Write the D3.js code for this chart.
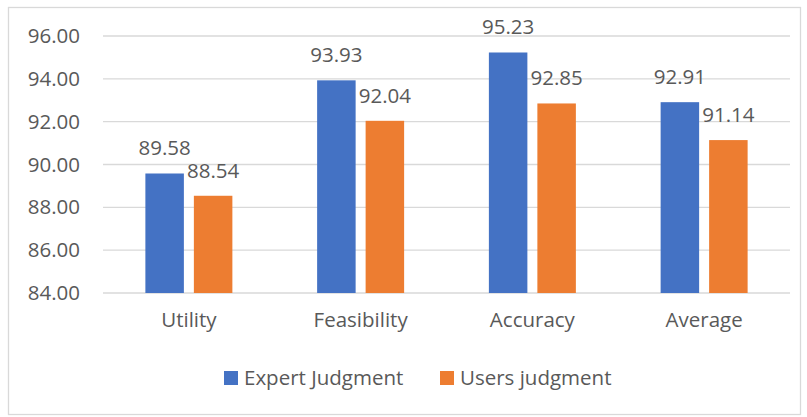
<html>
  <head>
    <meta charset="UTF-8">
    <style>
      body { margin: 0; background: #fff; }
      text { font-family: "Open Sans", sans-serif; fill: #595959; }
    </style>
  </head>
  <body>
    <script src="https://d3js.org/d3.v7.min.js"></script>
    <script>

var categories = ["Utility", "Feasibility", "Accuracy", "Average"];
var seriesNames = ["Expert Judgment", "Users judgment"];
var expertValues = [89.58, 93.93, 95.23, 92.91];
var usersValues = [88.54, 92.04, 92.85, 91.14];
var yTicks = [84, 86, 88, 90, 92, 94, 96];
var colors = ["#4472C4", "#ED7D31"];

var width = 807, height = 417;
var plot = { left: 103, right: 790, top: 36, bottom: 293 };

var svg = d3.select("body").append("svg")
    .attr("width", width).attr("height", height);

// outer frame
svg.append("rect")
    .attr("x", 8.5).attr("y", 7.5)
    .attr("width", 792).attr("height", 407)
    .attr("fill", "#fff")
    .attr("stroke", "#D9D9D9")
    .attr("stroke-width", 1.3);

var y = d3.scaleLinear().domain([84, 96]).range([plot.bottom, plot.top]);
var x0 = d3.scaleBand().domain(categories).range([plot.left, plot.right]).padding(0);
var x1 = d3.scaleBand().domain(seriesNames).range([0, x0.bandwidth()])
    .paddingInner(0.206).paddingOuter(0.874);

// gridlines
svg.append("g").selectAll("line")
    .data(yTicks)
    .join("line")
    .attr("x1", plot.left).attr("x2", plot.right)
    .attr("y1", function(d) { return y(d); })
    .attr("y2", function(d) { return y(d); })
    .attr("stroke", "#D9D9D9")
    .attr("stroke-width", 1.3);

// y axis labels
var yAxis = d3.axisLeft(y).tickValues(yTicks).tickSize(0).tickPadding(23)
    .tickFormat(function(d) { return d3.format(".2f")(d); });
var ya = svg.append("g").attr("transform", "translate(" + plot.left + ",0)").call(yAxis);
ya.select(".domain").remove();
ya.selectAll("text")
    .attr("fill", "#595959")
    .style("font-size", "20.5px")
    .style("font-family", "'Open Sans', sans-serif");

// x axis labels
var xAxis = d3.axisBottom(x0).tickSize(0).tickPadding(19);
var xa = svg.append("g").attr("transform", "translate(0," + plot.bottom + ")").call(xAxis);
xa.select(".domain").remove();
xa.selectAll("text")
    .attr("fill", "#595959")
    .style("font-size", "20.5px")
    .style("font-family", "'Open Sans', sans-serif");

var rows = categories.map(function(c, i) {
    return { cat: c, vals: [
        { name: seriesNames[0], v: expertValues[i], k: 0 },
        { name: seriesNames[1], v: usersValues[i], k: 1 }
    ] };
});

var groups = svg.append("g").selectAll("g")
    .data(rows)
    .join("g")
    .attr("transform", function(d) { return "translate(" + x0(d.cat) + ",0)"; });

groups.selectAll("rect")
    .data(function(d) { return d.vals; })
    .join("rect")
    .attr("x", function(d) { return x1(d.name); })
    .attr("width", x1.bandwidth())
    .attr("y", function(d) { return y(d.v); })
    .attr("height", function(d) { return y(84) - y(d.v); })
    .attr("fill", function(d) { return colors[d.k]; });

groups.selectAll("text.val")
    .data(function(d) { return d.vals; })
    .join("text")
    .attr("class", "val")
    .attr("x", function(d) { return x1(d.name) + x1.bandwidth() / 2; })
    .attr("y", function(d) { return y(d.v) - 18; })
    .attr("text-anchor", "middle")
    .style("font-size", "20.5px")
    .text(function(d) { return d3.format(".2f")(d.v); });

// legend
var legendX = [224, 440];
var legend = svg.append("g").selectAll("g")
    .data(seriesNames)
    .join("g")
    .attr("transform", function(d, i) { return "translate(" + legendX[i] + ",371)"; });
legend.append("rect")
    .attr("width", 14).attr("height", 14)
    .attr("fill", function(d, i) { return colors[i]; });
legend.append("text")
    .attr("x", 20).attr("y", 14)
    .style("font-size", "20.5px")
    .text(function(d) { return d; });

    </script>
  </body>
</html>
